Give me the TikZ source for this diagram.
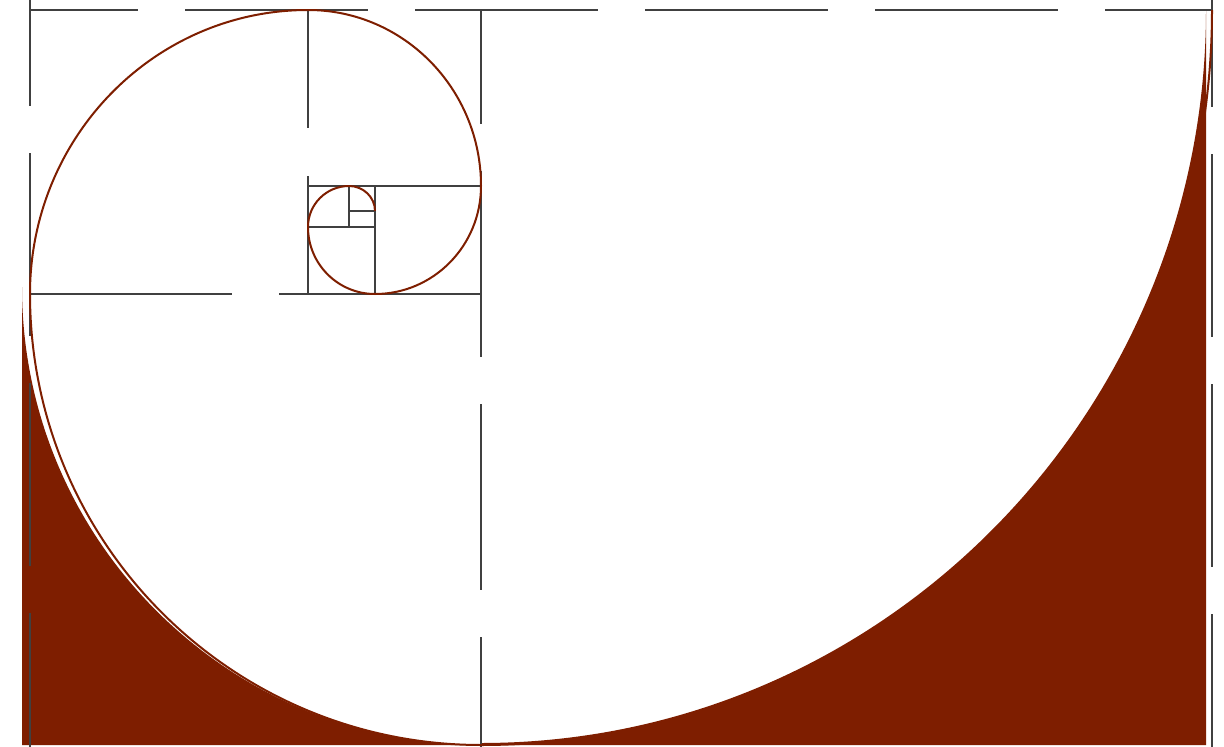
\documentclass[tikz,border=0pt]{standalone}
\usepackage{tikz}
\definecolor{rust}{RGB}{126,30,0}
\definecolor{guidegray}{RGB}{64,64,64}
\tikzset{
	guide/.style={draw=guidegray, line width=2pt},
	longdash/.style={dash pattern=on 183pt off 47pt},
	spiral_arc/.style={draw=rust, line width=2pt},
	tail_fill/.style={fill=rust}
}

\begin{document}
\begin{tikzpicture}[x=1pt,y=-1pt]
	\useasboundingbox (0,0) rectangle (1224,747);
	\fill[tail_fill] (22,287) -- (22,745) -- (1206,745) -- (1206,10)
		arc[start angle=0, end angle=90, x radius=725, y radius=733] -- (481,745)
		arc[start angle=90, end angle=180, x radius=459, y radius=458] -- cycle;
	\draw[guide, longdash, dash phase=75pt] (30,10) -- (1212,10);
	\draw[guide, longdash, dash phase=77pt] (30,0) -- (30,747);
	\draw[guide, longdash, dash phase=76pt] (1212,0) -- (1212,747);
	\draw[guide, dash pattern=on 186pt off 47pt, dash phase=72pt] (481,10) -- (481,747);
	\draw[guide, dash pattern=on 118pt off 48pt] (308,10) -- (308,294);
	\draw[guide, dash pattern=on 202pt off 47pt] (30,294) -- (481,294);
	\draw[guide] (308,186) -- (481,186) (375,186) -- (375,294)
		(308,227) -- (375,227) (349,186) -- (349,227) (349,211) -- (375,211);
	\draw[spiral_arc] (1212,10)
		arc[start angle=0, end angle=90, x radius=731, y radius=735]
		arc[start angle=90, end angle=180, radius=451]
		arc[start angle=180, end angle=270, x radius=278, y radius=284]
		arc[start angle=270, end angle=360, x radius=173, y radius=176]
		arc[start angle=0, end angle=90, x radius=106, y radius=108]
		arc[start angle=90, end angle=180, radius=67]
		arc[start angle=180, end angle=270, radius=41]
		arc[start angle=270, end angle=360, x radius=26, y radius=25];
\end{tikzpicture}
\end{document}
